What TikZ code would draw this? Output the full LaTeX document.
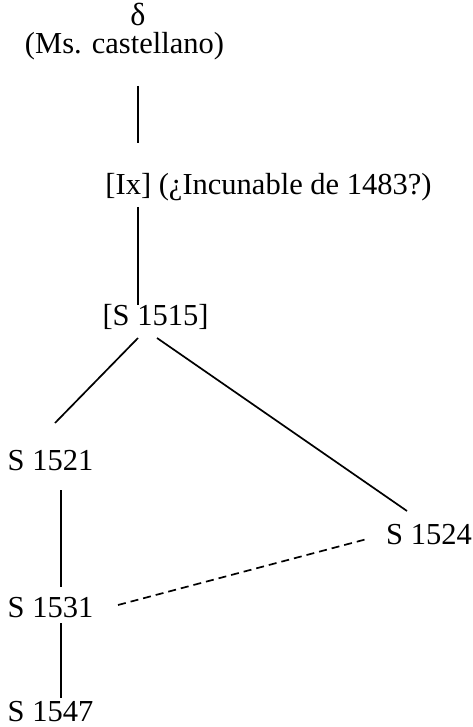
\documentclass[tikz,border=0pt]{standalone}
\usepackage{fontspec}
\setmainfont{Liberation Serif}
\usetikzlibrary{calc}

\begin{document}
\begin{tikzpicture}[x=1pt, y=-1pt, line width=1.7pt,
    every node/.style={font=\fontsize{30.5}{36}\selectfont, inner sep=0pt, anchor=base}]
    \useasboundingbox (0,0) rectangle (473,727);
    \node[font=\fontsize{32}{36}\selectfont] (delta) at (138,26) {δ};
    \node (ms) at (124.5,54) {(Ms. castellano)};
    \node (ix) at (268.5,195) {[Ix] (¿Incunable de 1483?)};
    \node (s1515) at (155.5,325) {[S 1515]};
    \node (s1521) at (50.5,470) {S 1521};
    \node (s1524) at (429,544) {S 1524};
    \node (s1531) at (50.5,617) {S 1531};
    \node (s1547) at (50.5,721) {S 1547};

    \draw ($(ms.base)+(13.5,32)$) -- ($(ix.base)+(-130.5,-52)$);
    \draw ($(ix.base)+(-130.5,12)$) -- ($(s1515.base)+(-17.5,-20)$);
    \draw ($(s1515.base)+(-17.5,13)$) -- ($(s1521.base)+(4.5,-47)$);
    \draw ($(s1515.base)+(1.5,13)$) -- ($(s1524.base)+(-22,-33)$);
    \draw ($(s1521.base)+(10.5,20)$) -- ($(s1531.base)+(10.5,-30)$);
    \draw[dash pattern=on 8pt off 5pt] ($(s1531.base)+(67.5,-12)$) -- ($(s1524.base)+(-62,-5)$);
    \draw ($(s1531.base)+(10.5,6)$) -- ($(s1547.base)+(10.5,-23)$);
\end{tikzpicture}
\end{document}
